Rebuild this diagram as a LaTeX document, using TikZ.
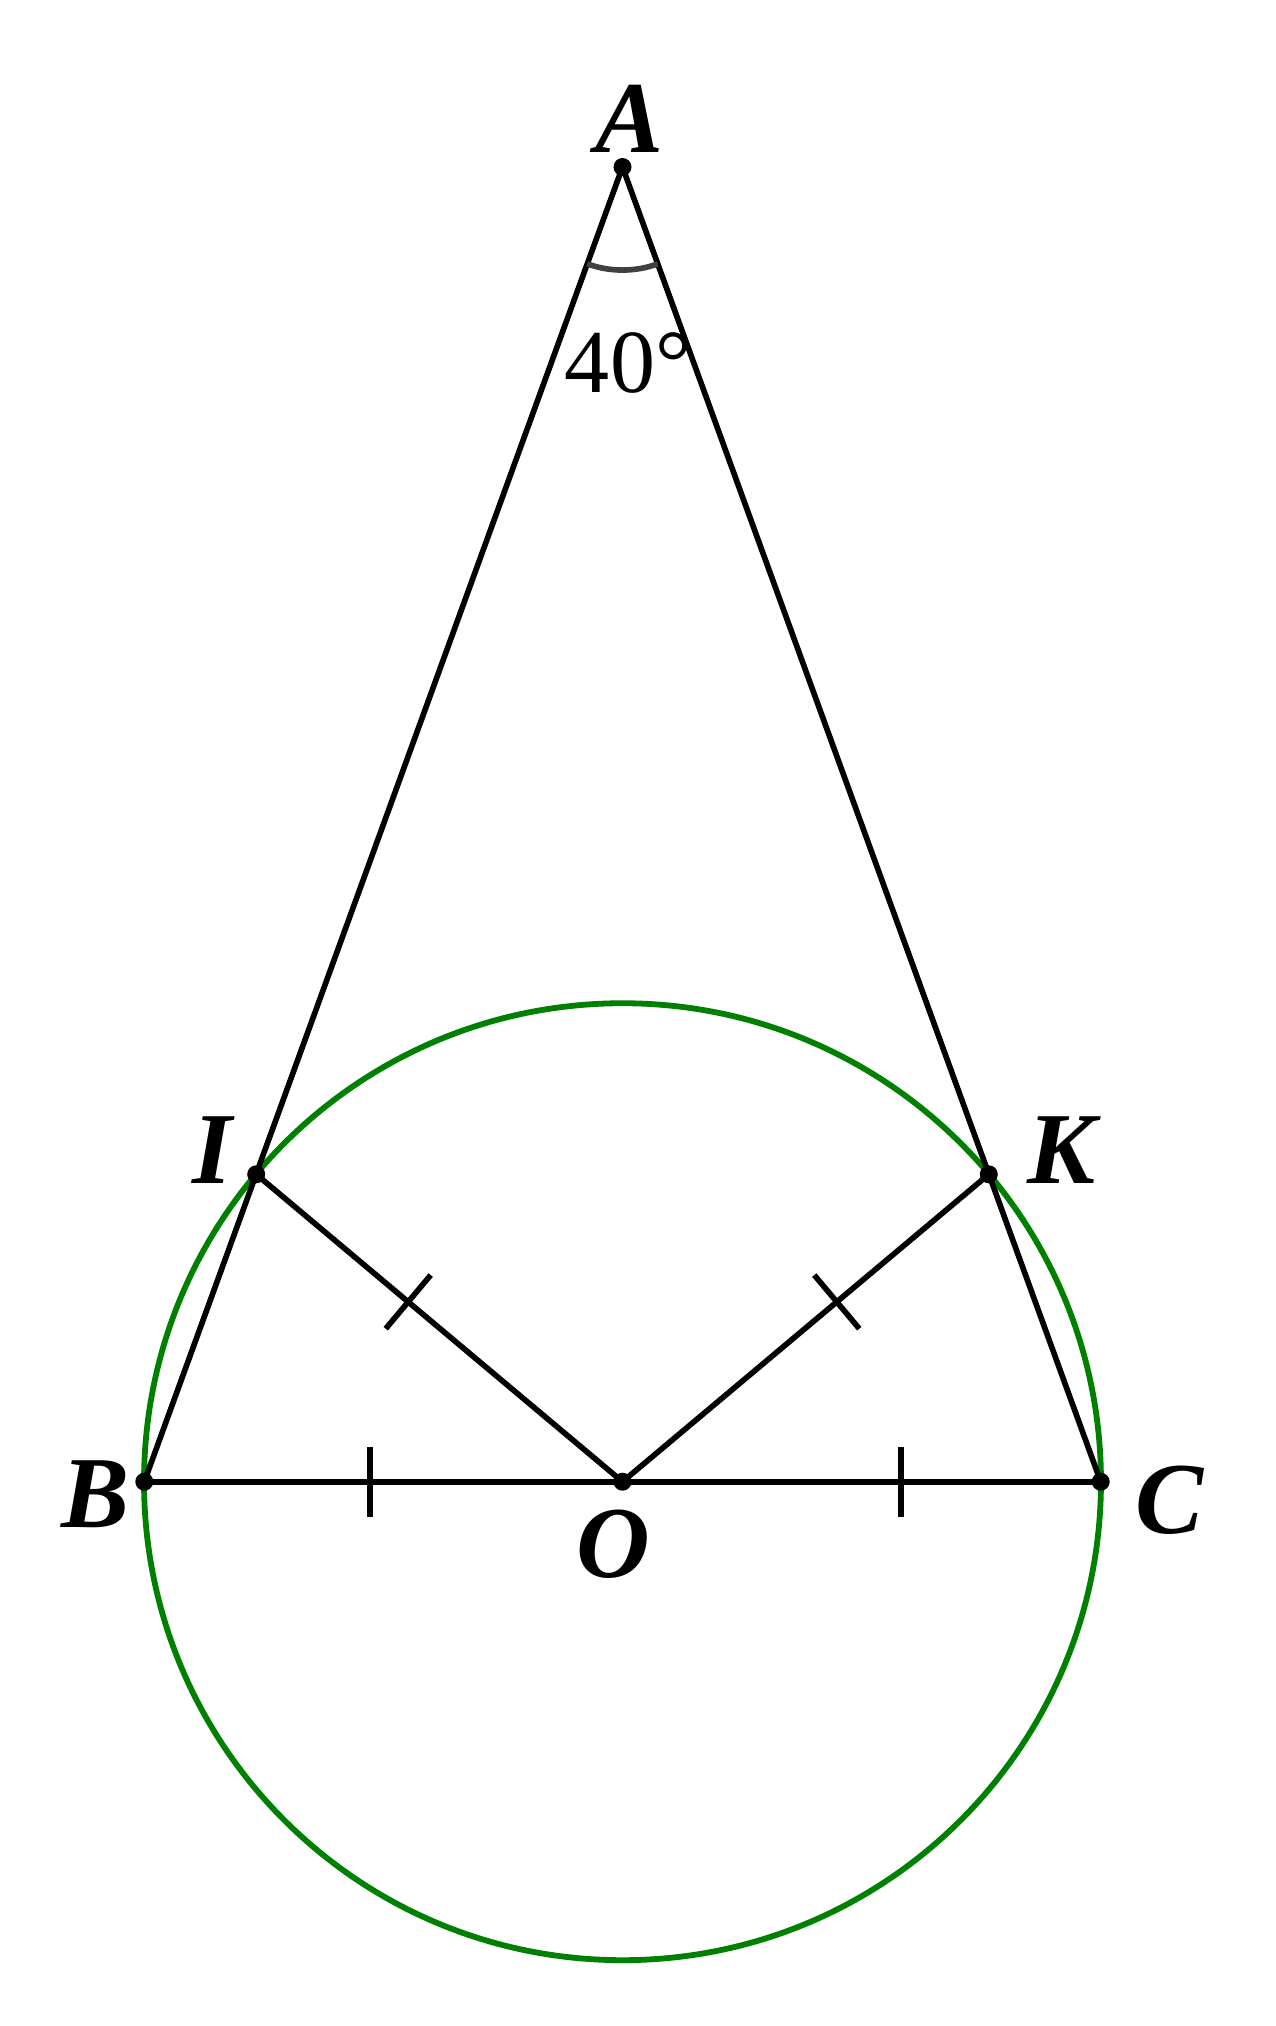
\documentclass[tikz,border=0pt]{standalone}
\usepackage{fontspec}
\setmainfont{Liberation Serif}
\usetikzlibrary{calc}
\definecolor{circgreen}{HTML}{008000}
\definecolor{arcgray}{HTML}{404040}
\tikzset{
  seg/.style={line width=1.6pt, black, line cap=round},
  circ/.style={line width=1.65pt, circgreen},
  tick/.style={line width=1.6pt, black},
  ptlabel/.style={inner sep=0pt, font=\fontsize{29}{30}\selectfont\bfseries\itshape},
  anglabel/.style={inner sep=0pt, font=\fontsize{25.6}{27}\selectfont},
  dot/.style={black}
}
\begin{document}
\begin{tikzpicture}[x=0.01cm, y=-0.01cm]
\useasboundingbox (0,0) rectangle (1276,2026);
% points
\coordinate (O) at (622.5,1481.7);
\coordinate (B) at (144.3,1481.7);
\coordinate (C) at (1100.7,1481.7);
\coordinate (A) at (622.5,167);
\coordinate (I) at (256.2,1174.3);
\coordinate (K) at (988.8,1174.3);
% circle
\draw[circ] (O) circle (4.782cm);
% segments
\draw[seg] (A) -- (B);
\draw[seg] (A) -- (C);
\draw[seg] (B) -- (C);
\draw[seg] (I) -- (O);
\draw[seg] (O) -- (K);
% angle arc
\draw[line width=1.6pt, arcgray] ([shift={(-110:1.03cm)}]A) arc[start angle=-110, end angle=-70, radius=1.03cm];
% ticks
\coordinate (t1a) at (370,1446.7);
\coordinate (t1b) at (370,1516.7);
\coordinate (t2a) at (901,1446.7);
\coordinate (t2b) at (901,1516.7);
\draw[tick] (t1a) -- (t1b);
\draw[tick] (t2a) -- (t2b);
\coordinate (t3) at ($(O)!0.585!(I)$);
\coordinate (t4) at ($(O)!0.585!(K)$);
\draw[tick] ($(t3)!0.35cm!90:(I)$) -- ($(t3)!0.35cm!-90:(I)$);
\draw[tick] ($(t4)!0.35cm!90:(K)$) -- ($(t4)!0.35cm!-90:(K)$);
% dots
\foreach \p in {A,B,C,O,I,K} \fill[dot] (\p) circle (0.09cm);
% labels
\node[ptlabel] (lA) at (630,119) {A};
\node[anglabel] (l40) at (628,363) {40°};
\node[ptlabel] (lI) at (212,1150) {I};
\node[ptlabel] (lK) at (1062,1150) {K};
\node[ptlabel] (lB) at (96,1494) {B};
\node[ptlabel] (lO) at (613,1544) {O};
\node[ptlabel] (lC) at (1170,1500) {C};
\end{tikzpicture}
\end{document}
